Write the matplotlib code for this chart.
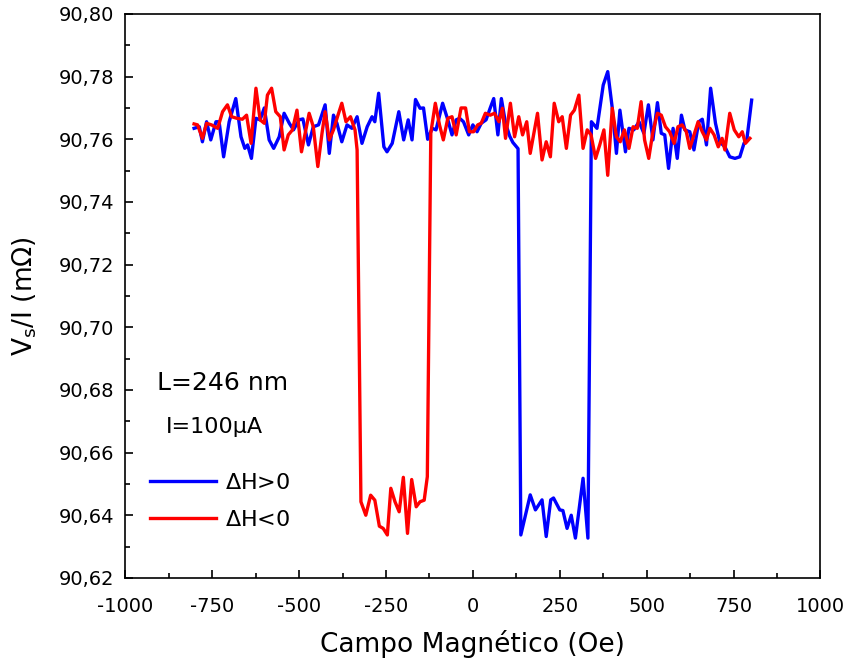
import matplotlib
matplotlib.use('Agg')
import matplotlib.pyplot as plt
from matplotlib.ticker import MultipleLocator, FuncFormatter

# blue curve: field sweep up (dH > 0)
up_field = [-802, -787, -778, -766, -754, -739, -730, -717, -701, -682, -667, -656, -648, -637,
            -624, -612, -600, -586, -573, -557, -543, -528, -516, -500, -489, -473, -459, -444,
            -425, -413, -401, -391, -377, -362, -348, -333, -319, -304, -290, -282, -271, -256,
            -247, -232, -213, -199, -186, -175, -165, -152, -142, -130, -117, -106, -87, -72,
            -60, -48, -38, -27, -12, 0, 12, 24, 38, 50, 60, 72, 82, 94, 106, 115, 130,
            138, 165, 180, 199, 211, 224, 232, 250, 259, 271, 283, 295, 317, 331,
            341, 357, 375, 388, 401, 413, 423, 439, 449, 463, 478, 492, 505, 518, 531, 542,
            552, 563, 576, 588, 600, 610, 624, 636, 650, 660, 672, 684, 698, 710, 725, 739,
            754, 768, 780, 788, 802]
up_rs = [90.7635, 90.7640, 90.7592, 90.7656, 90.7598, 90.7656, 90.7656, 90.7544, 90.7656, 90.7730,
         90.7608, 90.7571, 90.7582, 90.7539, 90.7667, 90.7662, 90.7700, 90.7598, 90.7571, 90.7608,
         90.7683, 90.7651, 90.7630, 90.7662, 90.7665, 90.7582, 90.7640, 90.7646, 90.7710, 90.7555,
         90.7677, 90.7651, 90.7592, 90.7646, 90.7635, 90.7672, 90.7587, 90.7640, 90.7672, 90.7656,
         90.7747, 90.7576, 90.7560, 90.7587, 90.7688, 90.7598, 90.7662, 90.7598, 90.7727, 90.7699,
         90.7700, 90.7600, 90.7635, 90.7630, 90.7715, 90.7662, 90.7614, 90.7662, 90.7667, 90.7656,
         90.7614, 90.7646, 90.7624, 90.7651, 90.7662, 90.7700, 90.7730, 90.7614, 90.7730, 90.7651,
         90.7610, 90.7590, 90.7570,
         90.6337, 90.6465, 90.6417, 90.6449, 90.6332, 90.6449, 90.6455, 90.6417, 90.6415, 90.6358,
         90.6400, 90.6327, 90.6518, 90.6327,
         90.7656, 90.7635, 90.7773, 90.7816, 90.7700, 90.7555, 90.7693, 90.7560, 90.7635, 90.7630,
         90.7656, 90.7619, 90.7710, 90.7598, 90.7717, 90.7619, 90.7614, 90.7507, 90.7635, 90.7539,
         90.7677, 90.7630, 90.7624, 90.7566, 90.7656, 90.7664, 90.7582, 90.7763, 90.7651, 90.7592,
         90.7576, 90.7544, 90.7539, 90.7544, 90.7587, 90.7598, 90.7725]

# red curve: field sweep down (dH < 0)
down_field = [-802, -792, -778, -766, -752, -734, -720, -706, -694, -679, -663, -651, -638, -624,
              -612, -600, -591, -579, -567, -554, -543, -531, -519, -506, -493, -471, -459, -446,
              -434, -425, -413, -401, -388, -377, -365, -352, -339, -333,
              -322, -308, -294, -282, -269, -258, -246, -236, -224, -212, -200, -188, -176, -163,
              -152, -140, -131,
              -121, -108, -96, -85, -72, -60, -48, -34, -21, -10, 2, 14, 24, 36, 50, 62, 75, 85,
              94, 108, 120, 132, 143, 155, 165, 186, 199, 211, 223, 234, 247, 257, 269, 281, 292,
              305, 317, 329, 340, 353, 365, 377, 388, 401, 413, 424, 436, 449, 461, 473, 484, 494,
              506, 518, 531, 542, 554, 566, 579, 590, 602, 614, 624, 636, 648, 660, 672, 682, 694,
              706, 717, 725, 739, 752, 765, 775, 784, 797]
down_rs = [90.7649, 90.7646, 90.7603, 90.7651, 90.7646, 90.7635, 90.7688, 90.7710, 90.7672, 90.7667,
           90.7664, 90.7677, 90.7587, 90.7763, 90.7662, 90.7651, 90.7741, 90.7763, 90.7688, 90.7672,
           90.7566, 90.7614, 90.7630, 90.7693, 90.7560, 90.7683, 90.7640, 90.7513, 90.7619, 90.7688,
           90.7598, 90.7630, 90.7677, 90.7715, 90.7656, 90.7672, 90.7630, 90.7566,
           90.6443, 90.6400, 90.6464, 90.6448, 90.6365, 90.6358, 90.6337, 90.6486, 90.6443, 90.6411,
           90.6521, 90.6342, 90.6514, 90.6427, 90.6443, 90.6448, 90.6523,
           90.7620, 90.7715, 90.7646, 90.7598, 90.7667, 90.7672, 90.7614, 90.7700, 90.7700, 90.7624,
           90.7624, 90.7646, 90.7651, 90.7683, 90.7677, 90.7683, 90.7656, 90.7699, 90.7603, 90.7715,
           90.7608, 90.7672, 90.7614, 90.7656, 90.7555, 90.7683, 90.7534, 90.7592, 90.7544, 90.7715,
           90.7656, 90.7672, 90.7571, 90.7677, 90.7693, 90.7741, 90.7571, 90.7630, 90.7614, 90.7539,
           90.7582, 90.7630, 90.7485, 90.7699, 90.7608, 90.7592, 90.7630, 90.7571, 90.7640, 90.7635,
           90.7720, 90.7598, 90.7539, 90.7624, 90.7683, 90.7677, 90.7640, 90.7624, 90.7587, 90.7640,
           90.7646, 90.7624, 90.7571, 90.7614, 90.7656, 90.7624, 90.7598, 90.7635, 90.7614, 90.7576,
           90.7603, 90.7566, 90.7683, 90.7630, 90.7608, 90.7624, 90.7587, 90.7603]

fig = plt.figure(figsize=(8.52, 6.65), dpi=100)
ax = fig.add_axes([0.147, 0.131, 0.816, 0.848])

ax.plot(up_field, up_rs, color='#0000ff', lw=2.4, label=r'$\Delta$H>0')
ax.plot(down_field, down_rs, color='#ff0000', lw=2.4, label=r'$\Delta$H<0')

ax.set_xlim(-1000, 1000)
ax.set_ylim(90.62, 90.80)
ax.xaxis.set_major_locator(MultipleLocator(250))
ax.xaxis.set_minor_locator(MultipleLocator(125))
ax.yaxis.set_major_locator(MultipleLocator(0.02))
ax.yaxis.set_minor_locator(MultipleLocator(0.01))
ax.xaxis.set_major_formatter(FuncFormatter(lambda v, p: '%d' % round(v)))
ax.yaxis.set_major_formatter(FuncFormatter(lambda v, p: ('%.2f' % v).replace('.', ',')))
ax.tick_params(which='both', direction='in', width=1.2, labelsize=14)
ax.tick_params(which='major', length=6)
ax.tick_params(which='minor', length=3.5)
ax.tick_params(axis='x', pad=14)
ax.tick_params(axis='y', pad=8)
for s in ax.spines.values():
    s.set_linewidth(1.2)

ax.set_xlabel('Campo Magnético (Oe)', fontsize=19, labelpad=10)
ax.set_ylabel(r'V$_\mathregular{s}$/I (m$\Omega$)', fontsize=19, labelpad=14)

ax.text(0.046, 0.345, 'L=246 nm', transform=ax.transAxes, fontsize=18, va='center')
ax.text(0.058, 0.267, 'I=100μA', transform=ax.transAxes, fontsize=16, va='center')

ax.legend(loc='upper left', bbox_to_anchor=(0.035, 0.186), frameon=False, fontsize=16,
          handlelength=3.0, handletextpad=0.4, labelspacing=0.75, borderpad=0, borderaxespad=0)

fig.savefig('out.png', dpi=100)
